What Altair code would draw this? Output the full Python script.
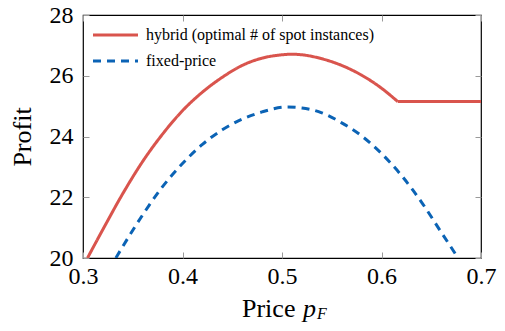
import altair as alt
import pandas as pd

# ---- data ----
series_names = ["hybrid (optimal # of spot instances)", "fixed-price"]

hybrid_price = [0.3045, 0.32, 0.34, 0.36, 0.38, 0.40, 0.42, 0.44, 0.46, 0.48, 0.50,
                0.51, 0.52, 0.54, 0.56, 0.58, 0.60, 0.6163, 0.65, 0.70]
hybrid_profit = [20.0, 20.94, 22.12, 23.18, 24.08, 24.85, 25.46, 25.95, 26.34, 26.58, 26.69,
                 26.71, 26.69, 26.56, 26.34, 26.02, 25.59, 25.15, 25.15, 25.15]

fixed_price = [0.333, 0.34, 0.36, 0.38, 0.40, 0.42, 0.44, 0.46, 0.48, 0.505,
               0.52, 0.54, 0.56, 0.58, 0.60, 0.62, 0.64, 0.66, 0.677]
fixed_profit = [20.0, 20.38, 21.42, 22.35, 23.11, 23.74, 24.22, 24.57, 24.81, 24.97,
                24.94, 24.78, 24.45, 24.02, 23.44, 22.72, 21.85, 20.85, 20.0]

KNEE = 0.6163  # where the hybrid curve turns flat

x_ticks = [0.3, 0.4, 0.5, 0.6, 0.7]
y_ticks = [20, 22, 24, 26, 28]

df = pd.concat([
    pd.DataFrame({"price": hybrid_price, "profit": hybrid_profit, "series": series_names[0]}),
    pd.DataFrame({"price": fixed_price, "profit": fixed_profit, "series": series_names[1]}),
])

RED = "#d9544d"
BLUE = "#0b63b5"
FONT = "Liberation Serif"
W, H = 398, 243
TICK = "#9a9a9a"

xscale = alt.Scale(domain=[0.3, 0.7], nice=False, zero=False)
yscale = alt.Scale(domain=[20, 28], nice=False, zero=False)
cscale = alt.Scale(domain=series_names, range=[RED, BLUE])
dscale = alt.Scale(domain=series_names, range=[[1, 0], [8, 6]])

x_enc_main = alt.X("price:Q", scale=xscale,
                   axis=alt.Axis(values=x_ticks, format=".1f", title=None, domain=False, grid=False,
                                 orient="bottom", offset=-6, tickSize=6, tickColor=TICK,
                                 labelPadding=6, labelFont=FONT, labelFontSize=24,
                                 labelColor="black", labelFlush=False, labelOverlap=False))
y_enc_main = alt.Y("profit:Q", scale=yscale,
                   axis=alt.Axis(values=y_ticks, title="Profit", domain=False, grid=False,
                                 orient="left", offset=-6, tickSize=6, tickColor=TICK,
                                 labelPadding=10, labelFont=FONT, labelFontSize=24,
                                 labelColor="black", labelFlush=False, labelOverlap=False,
                                 titleFont=FONT, titleFontSize=26, titleFontWeight="normal",
                                 titleColor="black", titlePadding=14))
x_plain = alt.X("price:Q", scale=xscale, axis=None)
y_plain = alt.Y("profit:Q", scale=yscale, axis=None)
color_enc = alt.Color("series:N", scale=cscale, legend=None)
dash_enc = alt.StrokeDash("series:N", scale=dscale, legend=None)

base = alt.Chart(df)

# curved parts (hybrid up to the knee, and the whole fixed-price curve)
curves = base.transform_filter(
    (alt.datum.series == series_names[1]) | (alt.datum.price <= KNEE)
).mark_line(strokeWidth=3, clip=True, interpolate="monotone").encode(
    x=x_enc_main, y=y_enc_main, color=color_enc, strokeDash=dash_enc)

# flat tail of the hybrid curve
flat = base.transform_filter(
    (alt.datum.series == series_names[0]) & (alt.datum.price >= KNEE)
).mark_line(strokeWidth=3, clip=True).encode(
    x=x_plain, y=y_plain, color=color_enc, strokeDash=dash_enc)

ticks_other = base.mark_point(opacity=0).encode(
    x=alt.X("price:Q", scale=xscale,
            axis=alt.Axis(values=x_ticks, title=None, domain=False, grid=False, labels=False,
                          orient="top", offset=-6, tickSize=6, tickColor=TICK)),
    y=alt.Y("profit:Q", scale=yscale,
            axis=alt.Axis(values=y_ticks, title=None, domain=False, grid=False, labels=False,
                          orient="right", offset=-6, tickSize=6, tickColor=TICK)),
)

# ---- legend drawn inside the plot (top-left) ----
leg_df = pd.DataFrame({"series": series_names})
leg_y = [20, 46]
leg_sym = alt.layer(*[
    alt.Chart(leg_df.iloc[[i]]).mark_rule(strokeWidth=3).encode(
        x=alt.value(10), x2=alt.value(55), y=alt.value(leg_y[i]),
        color=color_enc, strokeDash=dash_enc)
    for i in range(2)
])
leg_txt = alt.layer(*[
    alt.Chart(leg_df.iloc[[i]]).mark_text(font=FONT, fontSize=16, align="left",
                                          baseline="middle", color="black").encode(
        x=alt.value(63), y=alt.value(leg_y[i]), text="series:N")
    for i in range(2)
])

one = pd.DataFrame({"k": [0]})
t_price = alt.Chart(one).mark_text(font=FONT, fontSize=26, align="left", baseline="alphabetic",
                                   color="black").encode(
    x=alt.value(159), y=alt.value(302), text=alt.value("Price"))
t_p = alt.Chart(one).mark_text(font=FONT, fontSize=26, fontStyle="italic", align="left",
                               baseline="alphabetic", color="black").encode(
    x=alt.value(220), y=alt.value(302), text=alt.value("p"))
t_F = alt.Chart(one).mark_text(font=FONT, fontSize=16, fontStyle="italic", align="left",
                               baseline="alphabetic", color="black").encode(
    x=alt.value(234), y=alt.value(304), text=alt.value("F"))

chart = alt.layer(curves, flat, ticks_other, leg_sym, leg_txt, t_price, t_p, t_F).resolve_axis(
    x="independent", y="independent"
).properties(
    width=W, height=H,
    autosize=alt.AutoSizeParams(type="none"),
    padding={"left": 75, "top": 7, "right": 16, "bottom": 64},
).configure_view(stroke="black", strokeWidth=1.2)

chart.save("out.html", embed_options={"renderer": "svg", "actions": False})
